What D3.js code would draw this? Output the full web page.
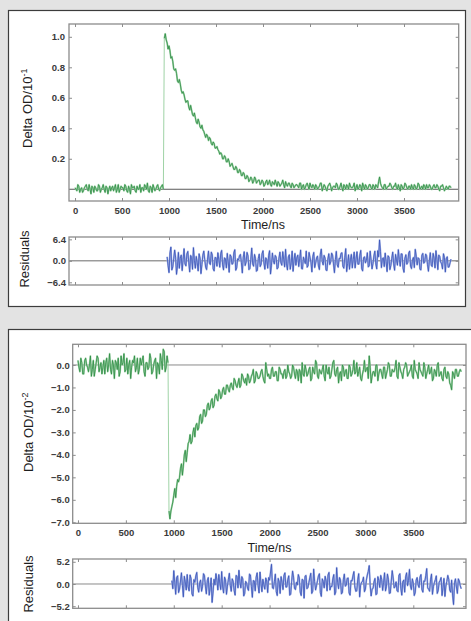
<!DOCTYPE html>
<html><head><meta charset="utf-8">
<script src="https://cdn.jsdelivr.net/npm/d3@7"></script>
<style>html,body{margin:0;padding:0;background:#e3e3e3;} svg{display:block;}</style>
</head><body>
<script>
// ---------- DATA ----------
// Each trace is sampled every 10 ns; values are stored as two interleaved
// lists: "even" samples (start, start+20, ...) and "mid" samples (start+10, ...).
const sampleStep = 10;
const pulseTime = 940;   // last sample before the laser-induced jump (ns)
const decay1Start = 0;
const decay1Even = [
 0.01,-0.01,0.02,0.00,-0.02,0.01,0.03,-0.01,0.00,0.02,
 -0.02,0.01,-0.01,0.02,0.00,0.03,-0.02,0.01,0.00,-0.01,
 0.02,0.01,-0.02,0.03,0.00,0.01,-0.01,0.02,-0.02,0.00,
 0.03,0.01,-0.01,0.02,0.00,-0.02,0.01,0.03,0.00,-0.01,
 0.02,-0.02,0.01,0.00,0.03,-0.01,0.02,0.00,
 1.02,0.96,0.94,0.86,0.84,0.78,0.76,0.70,0.69,0.63,
 0.62,0.57,0.58,0.52,0.52,0.48,0.47,0.43,0.44,0.40,
 0.39,0.36,0.36,0.32,0.33,0.29,0.30,0.27,0.26,0.23,
 0.23,0.20,0.21,0.18,0.18,0.16,0.15,0.13,0.14,0.11,
 0.12,0.09,0.10,0.07,0.08,0.06,0.07,0.05,0.07,0.05,
 0.06,0.04,0.05,0.03,0.06,0.04,0.03,0.05,0.03,0.04,
 0.05,0.02,0.04,0.03,0.05,0.02,0.04,0.01,0.03,0.02,
 0.03,0.01,0.04,0.02,0.00,0.03,0.02,0.04,0.01,0.02,
 0.03,0.00,0.02,0.04,0.01,0.02,-0.01,0.03,0.02,0.01,
 0.02,0.04,0.00,0.02,0.01,0.03,0.00,0.02,0.04,0.01,
 0.02,-0.01,0.03,0.01,0.02,0.04,0.00,0.02,0.01,0.03,
 0.00,0.02,0.03,0.01,0.08,0.02,0.00,0.03,0.01,0.02,
 0.03,0.00,0.02,0.01,0.03,-0.01,0.02,0.01,0.03,0.00,
 0.02,0.03,0.00,0.02,0.01,0.03,0.01,0.00,0.02,0.03,
 0.01,0.02,0.00,0.03,0.01,0.02,-0.01,0.02,0.01,0.00,
 0.01,0.02,0.01
];
const decay1Mid = [
 0.00,0.03,-0.02,0.01,-0.01,0.02,0.00,0.03,-0.03,0.01,
 0.02,-0.01,0.03,-0.02,0.01,0.00,0.02,-0.03,0.02,0.01,
 -0.01,0.03,0.00,-0.02,0.02,0.01,0.03,-0.01,0.02,-0.03,
 0.01,0.02,-0.02,0.00,0.03,0.01,-0.01,0.02,0.04,-0.02,
 0.01,0.03,-0.01,0.02,0.00,0.01,0.03,
 0.99,
 0.98,0.92,0.91,0.87,0.79,0.79,0.71,0.72,0.65,0.64,
 0.59,0.58,0.54,0.55,0.49,0.50,0.44,0.46,0.41,0.42,
 0.38,0.34,0.35,0.34,0.30,0.31,0.27,0.28,0.25,0.24,
 0.20,0.22,0.18,0.20,0.15,0.17,0.13,0.15,0.11,0.13,
 0.09,0.11,0.07,0.09,0.05,0.08,0.04,0.08,0.04,0.06,
 0.03,0.06,0.02,0.05,0.03,0.06,0.02,0.04,0.06,0.02,
 0.04,0.03,0.06,0.01,0.03,0.04,0.02,0.04,0.01,0.03,
 0.02,0.04,0.00,0.03,0.01,0.04,0.00,0.02,0.03,0.00,
 0.02,0.01,0.04,-0.01,0.03,0.00,0.02,0.04,-0.01,0.02,
 0.01,0.03,0.00,0.04,-0.01,0.02,0.03,0.00,0.02,0.01,
 0.04,0.01,0.00,0.03,-0.01,0.02,0.03,0.00,0.03,0.01,
 0.03,0.00,0.02,0.05,0.04,0.01,0.03,0.00,0.02,0.04,
 0.01,0.02,0.04,0.00,0.01,0.03,0.00,0.04,0.01,0.02,
 0.00,0.01,0.03,0.00,0.04,0.00,0.02,0.03,0.00,0.01,
 0.03,0.00,0.02,0.01,0.03,0.00,0.02,0.03,-0.01,0.02,
 0.00,0.02
];
const resid1Start = 980;
const resid1Even = [
 1.2,-3.5,4.1,-1.8,3.2,-4.0,2.5,0.8,-2.9,3.6,
 -1.5,2.8,-3.3,1.0,3.9,-2.2,-0.5,2.1,-3.8,1.7,
 0.4,-2.6,2.9,-1.1,1.8,-3.0,0.9,2.4,-1.9,3.1,
 -2.7,0.6,2.2,-3.4,1.3,-0.8,3.3,-2.1,0.2,1.9,
 -3.6,2.7,-0.4,1.5,-2.3,3.8,-1.6,0.7,-2.8,2.0,
 -1.0,3.0,-2.5,0.3,1.6,-3.9,2.3,-0.9,1.1,-2.0,
 2.6,-1.3,0.5,3.4,-2.7,1.8,-0.6,-3.1,2.2,0.9,
 -1.7,3.2,-2.4,0.1,2.9,-1.4,1.0,-3.3,2.5,-0.7,
 1.4,-2.6,3.5,-1.2,0.8,-2.9,2.1,-0.3,1.7,-3.5,
 2.8,-1.9,0.6,2.4,-2.2,3.6,-0.8,-2.5,1.9,0.4,
 -2.1,2.7,-1.0,3.1,-3.0,1.2,0.2,-1.8,2.9,-2.4,
 1.5,-0.9,3.0,6.2,-2.0,0.9,2.3,-3.2,1.1,-1.4,
 2.6,-2.8,0.3,3.3,-1.6,2.0,-3.4,1.8,-0.5,2.9,
 -2.3,1.0,3.4,-1.2,0.6,-2.7,2.2,-0.4,1.6,-3.1,
 2.4,-1.7,0.8,3.0,-2.6,1.3,-0.9,2.1,-3.3,1.2,
 -1.8,0.5
];
const resid1Mid = [
 -1.4,2.3,-2.7,0.6,1.1,-1.5,-2.2,1.7,0.3,-0.9,
 2.0,-0.4,1.6,-2.5,0.2,1.3,-3.0,0.8,-1.1,2.9,
 -1.9,0.5,-0.7,2.6,-2.4,1.0,-1.6,0.3,2.2,-1.2,
 0.9,-2.1,-0.3,1.8,-1.0,2.4,-2.8,0.6,1.5,-0.5,
 1.1,-1.4,2.5,-2.6,0.4,-0.9,1.9,-3.1,0.7,-1.7,
 2.1,-0.6,0.9,-2.2,3.0,-1.3,0.1,1.6,-2.4,0.8,
 -0.5,2.7,-1.8,-0.9,1.2,-2.5,2.9,0.2,-1.3,1.7,
 0.6,-2.3,1.1,-0.8,-1.9,2.5,-0.4,1.3,-2.0,0.9,
 -1.5,2.0,-0.2,1.6,-2.7,0.5,-1.1,2.3,-0.9,0.4,
 -1.2,0.7,2.2,-1.6,1.0,-3.2,1.8,0.3,-2.1,2.6,
 0.5,-1.0,1.7,-2.3,0.9,-0.6,2.4,-1.5,0.2,-0.8,
 2.9,-2.4,1.2,2.8,0.6,-1.7,-0.2,1.5,-2.6,0.7,
 -0.9,1.9,-1.3,0.4,2.1,-2.2,0.8,-1.0,2.3,-1.6,
 0.3,-2.0,1.4,0.9,-2.5,1.6,-0.7,2.0,-1.1,0.2,
 -1.3,2.2,-2.1,0.5,1.7,-0.3,-2.4,1.0,0.6,-1.9,
 -0.6
];
const decay2Start = 0;
const decay2Even = [
 0.2,-0.3,0.1,-0.4,0.3,-0.1,0.0,-0.5,0.2,-0.2,
 0.4,-0.3,0.1,-0.1,-0.4,0.3,0.0,-0.2,0.2,-0.6,
 0.1,0.3,-0.3,0.0,0.5,-0.2,-0.4,0.2,-0.1,0.1,
 -0.3,0.3,-0.2,0.0,0.4,-0.5,0.1,-0.1,0.3,-0.3,
 0.2,-0.6,0.0,0.5,-0.2,0.6,-0.1,0.1,
 -6.85,-6.3,
 -5.8,-5.9,-5.1,-5.0,-4.4,-4.5,-3.8,-3.9,-3.4,-3.5,
 -3.0,-3.2,-2.6,-2.8,-2.2,-2.5,-2.0,-2.2,-1.7,-1.9,
 -1.5,-1.8,-1.3,-1.6,-1.2,-1.4,-1.0,-1.3,-0.9,-1.2,
 -0.8,-1.1,-0.7,-1.0,-0.6,-0.9,-0.5,-0.8,-0.9,-0.5,
 -0.7,-0.4,-0.8,-0.3,-0.6,-0.5,-0.2,-0.7,0.1,-0.5,
 -0.6,-0.2,-0.5,-0.3,-0.7,-0.1,-0.4,-0.6,-0.2,-0.5,
 -0.3,-0.6,0.0,-0.4,-0.2,-0.7,-0.3,0.1,-0.5,-0.2,
 -0.4,-0.1,-0.6,-0.3,0.2,-0.5,-0.2,-0.4,0.0,-0.7,
 -0.3,-0.1,-0.5,0.1,-0.4,-0.2,-0.8,-0.3,0.0,-0.5,
 -0.2,-0.6,-0.1,-0.4,0.2,-0.3,-0.5,-0.1,-0.7,-0.2,
 -0.3,-0.1,0.4,-0.8,-0.3,-0.5,0.0,-0.4,-0.2,-0.6,
 -0.1,-0.4,0.1,-0.5,-0.2,-0.3,0.2,-0.6,-0.1,-0.4,
 -0.2,0.1,-0.5,-0.3,0.0,-0.6,-0.2,-0.4,0.1,-0.3,
 -0.5,-0.1,-0.4,0.0,-0.3,-0.7,-0.2,-0.5,0.1,-0.4,
 -0.6,-0.2,-0.5,-0.3,-0.8,-1.1,-0.4,-0.2,-0.5,-0.3,
 -0.3
];
const decay2Mid = [
 -0.1,0.3,-0.4,0.2,0.0,-0.3,0.4,-0.2,-0.5,0.1,
 0.3,-0.1,-0.4,0.2,0.1,-0.3,0.5,-0.4,0.0,0.2,
 -0.2,-0.5,0.4,0.1,-0.3,0.3,0.0,-0.6,0.2,0.4,
 -0.1,-0.4,0.3,0.2,-0.3,0.1,-0.2,0.5,-0.4,0.0,
 0.3,0.1,-0.4,0.2,0.7,-0.3,0.4,
 -6.5,
 -6.5,-6.1,-5.5,-5.4,-5.2,-4.6,-4.9,-4.0,-4.3,-3.5,
 -3.1,-3.4,-2.8,-2.7,-2.9,-2.3,-2.6,-2.0,-2.3,-1.8,
 -2.0,-1.6,-1.9,-1.4,-1.5,-1.1,-1.5,-1.1,-1.3,-0.9,
 -1.1,-0.9,-1.0,-0.6,-0.9,-0.8,-1.0,-0.4,-0.7,-0.6,
 -0.4,-0.8,-0.5,-0.2,-0.7,-0.4,-0.6,-0.3,-0.5,-0.8,
 -0.2,-0.4,-0.6,-0.1,-0.5,-0.3,-0.7,-0.2,-0.4,-0.3,
 -0.6,0.0,-0.4,-0.5,-0.1,-0.6,-0.3,-0.2,-0.8,-0.4,
 0.0,-0.5,-0.2,-0.7,-0.1,-0.4,0.1,-0.6,-0.3,-0.2,
 -0.5,0.0,-0.4,-0.6,-0.2,0.2,-0.5,-0.1,-0.4,-0.7,
 -0.1,-0.3,-0.6,0.0,-0.5,-0.2,-0.4,0.1,-0.3,-0.6,
 -0.4,0.2,-0.2,-0.6,-0.1,-0.5,-0.3,0.0,-0.7,-0.2,
 -0.4,-0.1,-0.6,-0.2,0.0,-0.5,-0.3,-0.1,-0.5,0.1,
 -0.3,-0.6,-0.1,0.0,-0.4,-0.2,-0.5,0.2,-0.3,-0.6,
 -0.2,-0.4,0.1,-0.6,-0.2,-0.4,-0.1,-0.6,-0.3,0.0,
 -0.5,-0.3,-0.7,-0.1,-0.6,-0.4,-0.9,-0.3,-0.6,-0.2,
 -0.5,-0.2
];
const resid2Start = 980;
const resid2Even = [
 0.8,3.1,-2.4,1.9,-1.2,2.6,-3.0,0.5,2.2,-1.6,
 1.3,-2.8,0.4,2.7,-1.9,0.9,-0.6,2.0,-2.3,1.5,
 -0.8,-4.3,1.1,2.4,-1.4,0.2,2.9,-2.1,1.0,-0.5,
 2.5,-1.7,0.6,-2.6,1.8,3.2,-0.9,1.2,-2.2,0.3,
 -1.5,2.1,-3.1,0.7,1.6,-0.4,2.8,-1.8,-0.2,1.4,
 -2.0,0.9,4.6,-1.1,2.3,-2.7,0.5,1.7,-1.3,2.6,
 -0.7,1.9,-2.4,3.0,-1.0,0.4,2.2,-1.9,1.1,-3.3,
 2.0,-0.8,1.5,-2.2,3.5,-1.4,0.8,2.4,-2.9,0.6,
 1.8,-1.6,2.7,-0.5,1.2,-2.5,3.8,-1.1,0.9,-2.0,
 2.3,-0.3,1.4,-2.6,0.7,2.9,-1.7,1.0,-3.0,0.4,
 1.6,-1.2,2.1,4.3,-2.8,-1.0,1.3,-2.3,0.8,2.0,
 -1.5,2.6,-0.6,1.1,-2.1,3.1,-0.9,0.5,-1.8,2.4,
 -2.6,0.9,1.7,-0.4,3.4,-1.3,0.2,-2.0,1.5,-0.8,
 2.2,-1.9,0.6,3.6,-1.2,1.0,-2.4,0.3,1.9,-1.5,
 0.8,-2.7,1.3,-0.5,2.0,-1.4,0.9,-4.8,1.2,-2.2,
 0.7,-1.1
];
const resid2Mid = [
 -1.1,0.4,1.5,-2.0,0.7,-0.3,1.8,-1.4,-0.6,2.1,
 -2.3,1.0,1.9,-0.8,0.3,-1.7,2.4,-0.5,0.8,-2.6,
 1.4,-1.9,-0.2,0.9,2.2,-1.3,-0.7,1.6,-2.4,1.1,
 -0.4,1.2,-1.5,2.0,-0.9,0.5,1.7,-2.8,0.6,-1.0,
 2.3,-0.6,0.8,-1.6,2.6,-2.1,0.2,1.1,-1.2,0.7,
 1.5,2.8,-0.9,0.6,-1.8,1.3,-2.2,0.4,2.0,-0.7,
 1.0,-2.6,0.5,1.6,-1.3,-0.2,1.4,-2.7,0.9,1.8,
 -1.1,0.3,2.5,-1.7,0.6,-0.4,1.9,-2.0,1.2,-0.9,
 0.7,2.1,-1.4,-0.6,2.2,-1.9,0.4,1.5,-2.3,1.0,
 -0.5,1.3,-2.1,0.8,1.9,-0.7,-1.6,2.4,-0.3,0.6,
 -1.8,0.9,3.0,-0.4,-1.2,0.5,-2.5,1.7,-0.8,1.1,
 0.4,-1.6,2.3,-2.2,0.7,1.4,-0.6,-1.5,2.0,-1.0,
 0.5,-1.9,2.6,0.8,-0.5,1.2,-2.7,0.9,-0.2,1.6,
 -1.3,0.7,1.9,-0.9,-1.7,2.3,-0.6,1.0,-2.2,0.4,
 1.5,-0.8,-2.9,0.6,1.1,-1.9,-2.6,0.3,-0.7,1.2,
 -0.4
];
const xTicks = [0,500,1000,1500,2000,2500,3000,3500];
const yTicks1 = [0.2,0.4,0.6,0.8,1.0];
const rTicks1 = [-6.4,0.0,6.4];
const yTicks2 = [0.0,-1.0,-2.0,-3.0,-4.0,-5.0,-6.0,-7.0];
const rTicks2 = [-5.2,0.0,5.2];

function interleave(even, mid){
  const out=[];
  even.forEach((v,i)=>{ out.push(v); if(i<mid.length) out.push(mid[i]); });
  return out;
}
const decay1 = interleave(decay1Even, decay1Mid);
const resid1 = interleave(resid1Even, resid1Mid);
const decay2 = interleave(decay2Even, decay2Mid);
const resid2 = interleave(resid2Even, resid2Mid);

// ---------- DRAW ----------
const W=471,H=621;
const FONT="'Liberation Sans', Arial, Helvetica, sans-serif";
const svg=d3.select("body").append("svg").attr("width",W).attr("height",H);
svg.append("rect").attr("width",W).attr("height",H).attr("fill","#e3e3e3");
svg.append("rect").attr("x",8.5).attr("y",10.5).attr("width",457).attr("height",296)
  .attr("fill","#fff").attr("stroke","#3c3c3c").attr("stroke-width",1.2);
svg.append("rect").attr("x",8.5).attr("y",329.5).attr("width",480).attr("height",320)
  .attr("fill","#fff").attr("stroke","#3c3c3c").attr("stroke-width",1.2);

const green={line:"#2a8a40",fuzz:"#9fd2a8",jump:"#9fd3a6"};
const blue={line:"#3550b5",fuzz:"#a3b2e6",jump:"#a3b2e6"};
let clipN=0;

function plot(o){
  const x=d3.scaleLinear().domain(o.xDom).range([o.left,o.right]);
  const y=d3.scaleLinear().domain(o.yDom).range([o.bottom,o.top]);
  const cid="clip"+(clipN++);
  svg.append("clipPath").attr("id",cid).append("rect")
    .attr("x",o.left).attr("y",o.top).attr("width",o.right-o.left).attr("height",o.bottom-o.top);
  svg.append("line").attr("x1",o.left).attr("x2",o.right).attr("y1",y(0)).attr("y2",y(0))
    .attr("stroke",o.zeroColor).attr("stroke-width",1);
  const pts=o.data.map((v,i)=>({t:o.start+i*sampleStep,v}));
  const line=d3.line().x(d=>x(d.t)).y(d=>y(d.v));
  let pieces=[pts];
  const g=svg.append("g").attr("clip-path",`url(#${cid})`);
  if(o.jump){
    const j=pts.findIndex(d=>d.t===pulseTime);
    pieces=[pts.slice(0,j+1),pts.slice(j+1)];
    g.append("path").datum([pts[j],pts[j+1]]).attr("d",line).attr("fill","none")
      .attr("stroke",o.col.jump).attr("stroke-width",1);
  }
  pieces.forEach(p=>{
    g.append("path").datum(p).attr("d",line).attr("fill","none")
      .attr("stroke",o.col.fuzz).attr("stroke-width",1.8).attr("stroke-linejoin","round");
  });
  pieces.forEach(p=>{
    g.append("path").datum(p).attr("d",line).attr("fill","none")
      .attr("stroke",o.col.line).attr("stroke-width",0.75).attr("stroke-linejoin","round");
  });
  svg.append("rect").attr("x",o.left).attr("y",o.top).attr("width",o.right-o.left).attr("height",o.bottom-o.top)
    .attr("fill","none").attr("stroke","#8c8c8c").attr("stroke-width",1.3);

  function styleAxis(sel){
    sel.select(".domain").remove();
    sel.selectAll(".tick line").attr("stroke","#8c8c8c").attr("stroke-width",1);
    sel.selectAll(".tick text").attr("font-family",FONT).attr("font-weight","bold")
      .attr("font-size",9.5).attr("fill","#3a3a3a");
  }
  const bx=d3.axisBottom(x).tickValues(xTicks).tickSizeInner(-3).tickSizeOuter(0).tickPadding(6.2)
    .tickFormat(o.xLabels?d3.format("d"):"");
  svg.append("g").attr("transform",`translate(0,${o.bottom})`).call(bx).call(styleAxis);
  const tx=d3.axisTop(x).tickValues(xTicks).tickSizeInner(-3).tickSizeOuter(0).tickFormat("");
  svg.append("g").attr("transform",`translate(0,${o.top})`).call(tx).call(styleAxis);
  const ly=d3.axisLeft(y).tickValues(o.yTicks).tickSizeInner(-3).tickSizeOuter(0).tickPadding(o.pad)
    .tickFormat(d3.format(".1f"));
  svg.append("g").attr("transform",`translate(${o.left},0)`).call(ly).call(styleAxis);
  const ry=d3.axisRight(y).tickValues(o.yTicks).tickSizeInner(-3).tickSizeOuter(0).tickFormat("");
  svg.append("g").attr("transform",`translate(${o.right},0)`).call(ry).call(styleAxis);
}

// Panel 1
plot({left:69,right:458.7,top:24,bottom:201,xDom:[-64,4082],yDom:[-0.077,1.084],
  data:decay1,start:decay1Start,col:green,zeroColor:"#5a5a5a",yTicks:yTicks1,xLabels:true,pad:4,jump:true});
plot({left:69,right:458.7,top:237,bottom:285,xDom:[-64,4082],yDom:[-7.2,7.1],
  data:resid1,start:resid1Start,col:blue,zeroColor:"#6a6a6a",yTicks:rTicks1,xLabels:false,pad:3});
// Panel 2
plot({left:72.7,right:466,top:344.3,bottom:523.3,xDom:[-55,4050],yDom:[-7.045,0.92],
  data:decay2,start:decay2Start,col:green,zeroColor:"#8a8a8a",yTicks:yTicks2,xLabels:true,pad:3,jump:true});
plot({left:72.7,right:466,top:559,bottom:608.3,xDom:[-55,4050],yDom:[-5.69,5.85],
  data:resid2,start:resid2Start,col:blue,zeroColor:"#8a8a8a",yTicks:rTicks2,xLabels:false,pad:3});

// Titles
function txt(x,y,s,size,anchor,rot){
  const t=svg.append("text").attr("font-family",FONT).attr("font-size",size).attr("fill","#1e1e1e")
    .attr("text-anchor",anchor).attr("transform",`translate(${x},${y})`+(rot?" rotate(-90)":""));
  t.text(s);
  return t;
}
txt(263,229,"Time/ns",12.5,"middle",false);
txt(269.5,552,"Time/ns",12.5,"middle",false);
const y1=txt(32,148,"Delta OD/10",13,"start",true);
y1.append("tspan").attr("dy",-5).attr("font-size",9).text("-1");
const y2=txt(33,472,"Delta OD/10",13,"start",true);
y2.append("tspan").attr("dy",-5).attr("font-size",9).text("-2");
txt(29,259,"Residuals",13,"middle",true);
txt(33,584,"Residuals",13,"middle",true);
</script>
</body></html>
